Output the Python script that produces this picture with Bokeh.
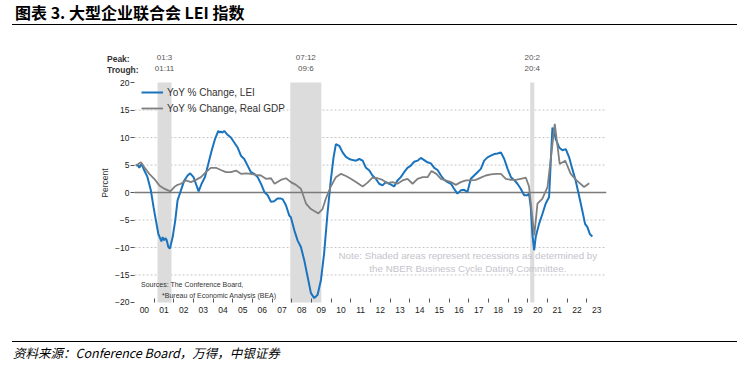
from bokeh.plotting import figure
from bokeh.models import Range1d, FixedTicker, Label, Legend, LegendItem, Div
from bokeh.layouts import column
from bokeh.embed import file_html
from bokeh.resources import INLINE

# ---------------- data ----------------
lei_t = [2000.07, 2000.17, 2000.24, 2000.36, 2000.5, 2000.66, 2000.83, 2000.97, 2001.09, 2001.21,
         2001.31, 2001.37, 2001.43, 2001.51, 2001.57, 2001.63, 2001.72, 2001.80, 2001.94, 2002.07,
         2002.19, 2002.36, 2002.53, 2002.70, 2002.83, 2003.0, 2003.12, 2003.26, 2003.41, 2003.58,
         2003.75, 2003.92, 2004.09, 2004.26, 2004.33, 2004.39, 2004.47, 2004.56, 2004.73, 2004.90,
         2005.07, 2005.24, 2005.41, 2005.58, 2005.75, 2005.92, 2006.09, 2006.26, 2006.43, 2006.60,
         2006.77, 2006.94, 2007.10, 2007.27, 2007.44, 2007.53, 2007.70, 2007.87, 2007.95, 2008.13,
         2008.29, 2008.46, 2008.63, 2008.80, 2008.97, 2009.14, 2009.31, 2009.48, 2009.64, 2009.81,
         2009.98, 2010.12, 2010.24, 2010.41, 2010.58, 2010.75, 2010.92, 2011.09, 2011.26, 2011.43,
         2011.60, 2011.77, 2011.94, 2012.10, 2012.27, 2012.44, 2012.61, 2012.78, 2012.95, 2013.20,
         2013.37, 2013.54, 2013.71, 2013.88, 2014.05, 2014.22, 2014.39, 2014.56, 2014.73, 2014.90,
         2015.07, 2015.24, 2015.41, 2015.58, 2015.75, 2015.92, 2016.09, 2016.25, 2016.42, 2016.59,
         2016.76, 2016.93, 2017.10, 2017.27, 2017.44, 2017.61, 2017.78, 2017.95, 2018.12, 2018.29,
         2018.46, 2018.63, 2018.80, 2018.97, 2019.14, 2019.30, 2019.47, 2019.64, 2019.81, 2019.98,
         2020.06, 2020.15, 2020.23, 2020.32, 2020.40, 2020.57, 2020.74, 2020.91, 2021.08, 2021.16,
         2021.25, 2021.33, 2021.42, 2021.59, 2021.76, 2021.93, 2022.10, 2022.26, 2022.43, 2022.60,
         2022.77, 2022.91, 2023.03, 2023.16, 2023.28]
lei_v = [4.9, 5.0, 4.5, 5.2, 4.0, 2.8, 0.4, -2.7, -5.1, -7.5,
         -8.4, -8.9, -8.1, -8.7, -8.3, -8.6, -9.9, -10.2, -8.1, -5.1,
         -1.4, 0.4, 2.2, 3.1, 3.5, 2.8, 1.6, 0.2, 1.6, 2.8,
         5.2, 7.6, 9.7, 11.2, 10.9, 11.1, 10.9, 11.2, 10.5, 10.0,
         9.1, 8.2, 6.7, 6.1, 4.9, 3.7, 3.4, 2.8, 1.6, 0.1,
         -0.5, -1.7, -1.6, -1.1, -1.1, -1.2, -2.3, -4.2, -4.5, -6.9,
         -8.7, -9.9, -12.3, -15.3, -18.3, -19.2, -18.6, -15.9, -11.1, -3.9,
         2.2, 6.4, 8.8, 8.5, 7.3, 6.5, 6.1, 5.9, 5.8, 6.1,
         5.8, 4.5, 4.0, 3.1, 2.5, 1.6, 1.3, 1.9, 1.6, 1.1,
         2.2, 2.8, 3.7, 4.5, 4.9, 5.6, 5.8, 6.3, 5.9, 5.5,
         5.3, 4.5, 4.1, 3.1, 2.3, 1.9, 1.6, 0.7, -0.2, 0.4,
         0.5, 0.1, 2.5, 3.1, 3.7, 4.3, 5.8, 6.4, 6.7, 7.0,
         7.1, 7.3, 6.1, 4.3, 2.8, 2.3, 1.6, 0.7, -0.5, -0.5,
         -0.2, -2.7, -7.5, -10.5, -8.1, -5.7, -3.9, -2.0, -0.8, 5.2,
         11.8, 11.2, 9.7, 8.2, 7.7, 7.9, 6.4, 4.3, 2.2, -0.5,
         -3.3, -5.7, -6.3, -7.6, -8.0]

gdp_t = [2000.07, 2000.33, 2000.5, 2000.75, 2001.0, 2001.26, 2001.51, 2001.82, 2002.02, 2002.19,
         2002.36, 2002.61, 2002.87, 2003.12, 2003.38, 2003.63, 2003.88, 2004.14, 2004.39, 2004.65,
         2004.9, 2005.16, 2005.41, 2005.67, 2005.92, 2006.17, 2006.43, 2006.68, 2006.94, 2007.12,
         2007.44, 2007.7, 2007.95, 2008.21, 2008.46, 2008.72, 2008.97, 2009.35, 2009.56, 2009.73,
         2009.98, 2010.24, 2010.5, 2010.75, 2011.0, 2011.26, 2011.6, 2011.85, 2012.1, 2012.36,
         2012.61, 2012.87, 2013.12, 2013.37, 2013.63, 2013.88, 2014.14, 2014.39, 2014.65, 2014.9,
         2015.1, 2015.35, 2015.58, 2015.83, 2016.09, 2016.34, 2016.59, 2016.85, 2017.1, 2017.36,
         2017.61, 2017.86, 2018.12, 2018.38, 2018.63, 2018.88, 2019.14, 2019.39, 2019.64, 2019.9,
         2020.06, 2020.33, 2020.49, 2020.74, 2021.0, 2021.37, 2021.62, 2021.9, 2022.18, 2022.48,
         2022.86, 2023.12]
gdp_v = [4.9, 5.5, 4.6, 3.4, 2.5, 1.3, 0.7, 0.2, 1.0, 1.4,
         1.6, 2.2, 1.9, 2.3, 2.8, 3.7, 4.5, 4.5, 4.1, 3.7,
         3.7, 4.0, 3.4, 3.5, 3.4, 3.2, 3.1, 2.5, 2.6, 1.6,
         2.3, 2.6, 1.9, 1.4, 0.7, -2.0, -3.0, -3.8, -3.0, -1.1,
         1.1, 2.8, 3.4, 3.0, 2.5, 1.9, 1.1, 1.8, 2.7, 2.6,
         2.3, 1.7, 1.9, 1.6, 2.2, 2.5, 1.6, 2.5, 2.8, 2.8,
         3.9, 3.4, 2.5, 2.2, 1.9, 1.4, 1.9, 2.2, 2.2, 2.3,
         2.7, 3.1, 3.3, 3.4, 3.4, 2.5, 2.3, 2.3, 2.5, 2.7,
         1.1, -7.8, -2.0, -1.1, 1.0, 12.5, 5.2, 5.8, 3.4, 2.2,
         1.0, 1.7]

rec_start = [2001.17, 2007.92, 2020.12]
rec_end = [2001.88, 2009.50, 2020.33]
peak_labels = ["01:3", "07:12", "20:2"]
trough_labels = ["01:11", "09:6", "20:4"]

year_ticks = [2000.5 + i for i in range(24)]
year_labels = ["00", "01", "02", "03", "04", "05", "06", "07", "08", "09", "10", "11",
               "12", "13", "14", "15", "16", "17", "18", "19", "20", "21", "22", "23"]
year_bounds = [2001 + i for i in range(23)]
y_ticks = [-20, -15, -10, -5, 0, 5, 10, 15, 20]
grid_ticks = [-15, -10, -5, 5, 10, 15]

X_START, X_END = 2000, 2024      # extent of the chart body
Y_MIN, Y_MAX = -20, 20

FONT = "Liberation Sans"
BLUE = "#1a73bd"
GREY = "#808080"

# ---------------- figure ----------------
p = figure(width=745, height=314, x_range=Range1d(1998.27, X_END), y_range=Range1d(-22.73, 26.2),
           output_backend="svg", toolbar_location=None,
           min_border_left=100, min_border_right=139, min_border_top=21, min_border_bottom=24)
p.outline_line_color = None
p.background_fill_color = "white"
p.border_fill_color = "white"
p.xgrid.visible = False
p.ygrid.visible = False

# dashed grid lines over the chart body
p.segment(x0=X_START, x1=X_END, y0=grid_ticks, y1=grid_ticks,
          line_color="#c6c6c6", line_dash="2 2", line_width=1)
# recessions
p.quad(left=rec_start, right=rec_end, bottom=Y_MIN, top=Y_MAX, fill_color="#dcdcdc", line_color=None)
# zero line
p.segment(x0=X_START, x1=X_END, y0=0, y1=0, line_color="#7a7a7a", line_width=1.5)

r_lei = p.line(lei_t, lei_v, line_color=BLUE, line_width=2)
r_gdp = p.line(gdp_t, gdp_v, line_color=GREY, line_width=1.8)

# x axis, pinned at the bottom of the chart body
xa = p.xaxis[0]
xa.fixed_location = Y_MIN
xa.ticker = FixedTicker(ticks=year_ticks, minor_ticks=year_bounds)
xa.major_label_overrides = {t: l for t, l in zip(year_ticks, year_labels)}
xa.major_tick_line_color = None
xa.major_tick_in = 0
xa.major_tick_out = 0
xa.minor_tick_in = 4
xa.minor_tick_out = 0
xa.minor_tick_line_color = "#555555"
xa.axis_line_color = None
xa.major_label_standoff = 5
xa.major_label_text_font = FONT
xa.major_label_text_font_size = "8.5px"
xa.major_label_text_color = "#222222"

# y axis, pinned at the start of the chart body
ya = p.yaxis[0]
ya.fixed_location = X_START
ya.ticker = FixedTicker(ticks=y_ticks)
ya.major_tick_in = 0
ya.major_tick_out = 4
ya.major_tick_line_color = "#555555"
ya.minor_tick_line_color = None
ya.axis_line_color = None
ya.major_label_standoff = 1
ya.major_label_text_font = FONT
ya.major_label_text_font_size = "8.5px"
ya.major_label_text_color = "#222222"
ya.axis_label = "Percent"
ya.axis_label_text_font = FONT
ya.axis_label_text_font_size = "8.5px"
ya.axis_label_text_font_style = "normal"
ya.axis_label_text_color = "#333333"
ya.axis_label_standoff = 2

# legend
legend = Legend(items=[LegendItem(label="YoY % Change, LEI", renderers=[r_lei]),
                       LegendItem(label="YoY % Change, Real GDP", renderers=[r_gdp])],
                location=(41, 201), padding=0, margin=0, spacing=0,
                glyph_width=22, glyph_height=16, label_height=16, label_standoff=4,
                border_line_color=None, background_fill_alpha=0,
                label_text_font=FONT, label_text_font_size="10px", label_text_color="#333333")
p.add_layout(legend)

# peak / trough annotations
p.add_layout(Label(x=1998.6, y=24.2, text="Peak:", text_font=FONT, text_font_size="8.5px",
                   text_font_style="bold", text_color="#333333", text_baseline="middle"))
p.add_layout(Label(x=1998.6, y=22.2, text="Trough:", text_font=FONT, text_font_size="8.5px",
                   text_font_style="bold", text_color="#333333", text_baseline="middle"))
for s, e, pk, tr in zip(rec_start, rec_end, peak_labels, trough_labels):
    mid = (s + e) / 2
    p.add_layout(Label(x=mid, y=24.6, text=pk, text_font=FONT, text_font_size="8px",
                       text_color="#555555", text_align="center", text_baseline="middle"))
    p.add_layout(Label(x=mid, y=22.6, text=tr, text_font=FONT, text_font_size="8px",
                       text_color="#555555", text_align="center", text_baseline="middle"))

# note
p.add_layout(Label(x=2016.95, y=-11.45, text="Note: Shaded areas represent recessions as determined by",
                   text_font=FONT, text_font_size="9.8px", text_color="#c4c4cc",
                   text_align="center", text_baseline="middle"))
p.add_layout(Label(x=2016.95, y=-13.8, text="the NBER Business Cycle Dating Committee.",
                   text_font=FONT, text_font_size="9.8px", text_color="#c4c4cc",
                   text_align="center", text_baseline="middle"))

# sources
p.add_layout(Label(x=2000.33, y=-16.8, text="Sources: The Conference Board,",
                   text_font=FONT, text_font_size="7px", text_color="#333333", text_baseline="middle"))
p.add_layout(Label(x=2001.4, y=-18.8, text="*Bureau of Economic Analysis (BEA)",
                   text_font=FONT, text_font_size="7px", text_color="#333333", text_baseline="middle"))

title_div = Div(
    text=('<div style="width:725px;height:25px;margin-left:12px;padding-left:3px;'
          'border-bottom:1.5px solid #000;font-family:\'Noto Sans CJK SC\';font-weight:bold;'
          'font-size:16px;line-height:25px;white-space:nowrap;color:#000;">'
          '图表 3. 大型企业联合会 LEI 指数</div>'),
    width=745, height=27, margin=0)

source_div = Div(
    text=('<div style="width:725px;margin-left:12px;border-top:1px solid #000;padding-left:1px;'
          'font-family:\'Noto Sans CJK SC\';font-style:italic;font-size:12.5px;line-height:22px;'
          'white-space:nowrap;color:#000;">资料来源：Conference Board，万得，中银证券</div>'),
    width=745, height=26, margin=0)

layout = column(title_div, p, source_div, spacing=0)

open("out.html", "w").write(file_html(layout, INLINE))
